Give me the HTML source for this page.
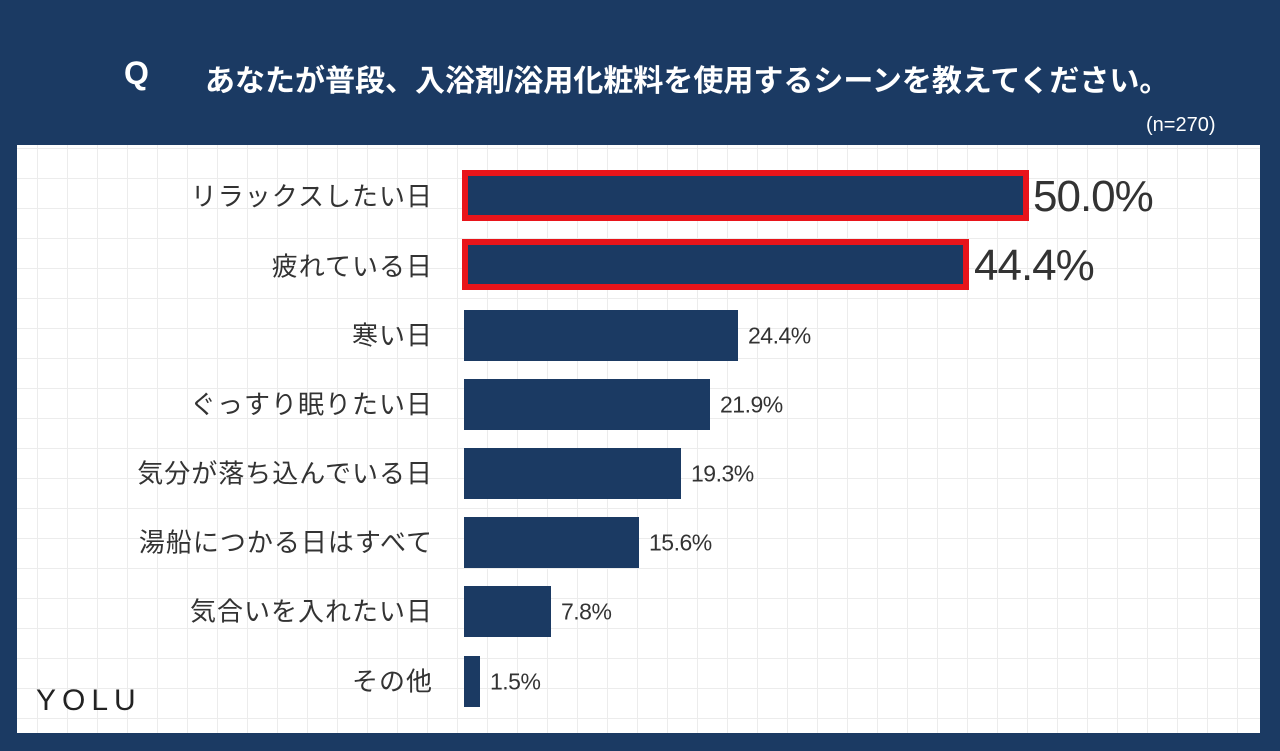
<!DOCTYPE html>
<html><head><meta charset="utf-8"><style>
body{margin:0;width:1280px;height:751px;background:#1b3a63;position:relative;overflow:hidden;font-family:"Liberation Sans","Noto Sans CJK JP",sans-serif}
.panel{position:absolute;left:17px;top:145px;width:1243px;height:588px;background-color:#fff;
background-image:linear-gradient(#ececec 1px,transparent 1px),linear-gradient(90deg,#ececec 1px,transparent 1px);background-size:30px 30px;background-position:-10px 3px}
.t{position:absolute;color:#fff;font-weight:bold;white-space:nowrap}
.lab{position:absolute;right:847px;font-size:26px;color:#333;white-space:nowrap;transform:translateY(-50%);letter-spacing:1px}
.bar{position:absolute;left:464px;background:#1b3a63;height:51px}
.val{position:absolute;font-size:23px;color:#333;transform:translateY(-50%);white-space:nowrap;letter-spacing:-0.5px}
.big{font-size:44px;letter-spacing:-1px}
.red{position:absolute;border:6px solid #e8141a;box-sizing:border-box;background:#1b3a63}
</style></head><body>
<div class="t" style="left:124px;top:55px;font-size:32px">Q</div>
<div class="t" style="left:205px;top:56px;font-size:30px">あなたが普段、入浴剤/浴用化粧料を使用するシーンを教えてください。</div>
<div style="position:absolute;left:1146px;top:114px;color:#fff;font-size:20px">(n=270)</div>
<div class="panel"></div>
<div class="red" style="left:462px;top:170px;width:567px;height:51px"></div>
<div class="red" style="left:462px;top:239px;width:507px;height:51px"></div>
<div class="bar" style="top:310px;width:274px"></div>
<div class="bar" style="top:379px;width:246px"></div>
<div class="bar" style="top:448px;width:217px"></div>
<div class="bar" style="top:517px;width:175px"></div>
<div class="bar" style="top:586px;width:87px"></div>
<div class="bar" style="top:656px;width:16px"></div>
<div class="lab" style="top:195px">リラックスしたい日</div>
<div class="lab" style="top:265px">疲れている日</div>
<div class="lab" style="top:334px">寒い日</div>
<div class="lab" style="top:403px">ぐっすり眠りたい日</div>
<div class="lab" style="top:472px">気分が落ち込んでいる日</div>
<div class="lab" style="top:541px">湯船につかる日はすべて</div>
<div class="lab" style="top:610px">気合いを入れたい日</div>
<div class="lab" style="top:680px">その他</div>
<div class="val big" style="left:1033px;top:197px">50.0%</div>
<div class="val big" style="left:974px;top:266px">44.4%</div>
<div class="val" style="left:748px;top:336px">24.4%</div>
<div class="val" style="left:720px;top:405px">21.9%</div>
<div class="val" style="left:691px;top:474px">19.3%</div>
<div class="val" style="left:649px;top:543px">15.6%</div>
<div class="val" style="left:561px;top:612px">7.8%</div>
<div class="val" style="left:490px;top:682px">1.5%</div>
<div style="position:absolute;left:36px;top:684px;font-size:30px;color:#222;letter-spacing:6px;font-family:'Liberation Sans',sans-serif;font-weight:300">YOLU</div>
</body></html>
